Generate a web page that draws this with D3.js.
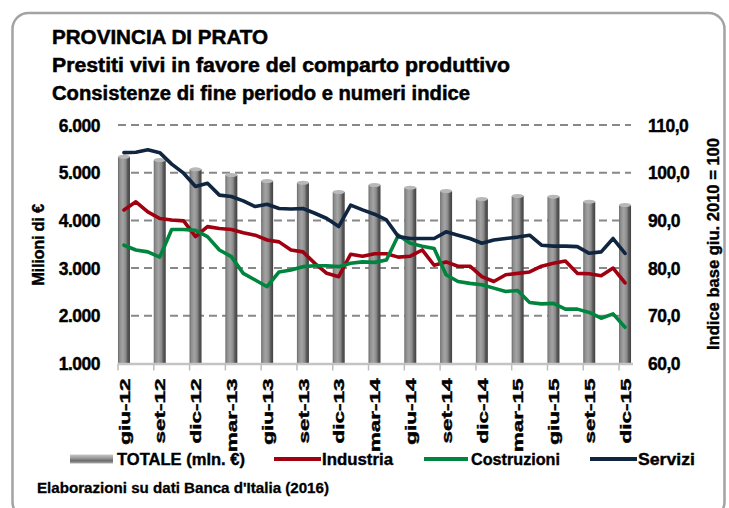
<!DOCTYPE html>
<html>
<head>
<meta charset="utf-8">
<script src="https://cdn.jsdelivr.net/npm/d3@7"></script>
<style>
  html, body { margin: 0; padding: 0; background: #fff; }
  svg { display: block; }
  text { font-family: "Liberation Sans", Arial, sans-serif; font-weight: bold; fill: #000; }
</style>
</head>
<body>
<svg id="chart" width="729" height="508"></svg>
<script>
// ---------- DATA ----------
const months = [
  "giu-12","lug-12","ago-12","set-12","ott-12","nov-12","dic-12",
  "gen-13","feb-13","mar-13","apr-13","mag-13","giu-13","lug-13","ago-13","set-13","ott-13","nov-13","dic-13",
  "gen-14","feb-14","mar-14","apr-14","mag-14","giu-14","lug-14","ago-14","set-14","ott-14","nov-14","dic-14",
  "gen-15","feb-15","mar-15","apr-15","mag-15","giu-15","lug-15","ago-15","set-15","ott-15","nov-15","dic-15"
];
const quarters = ["giu-12","set-12","dic-12","mar-13","giu-13","set-13","dic-13","mar-14","giu-14","set-14","dic-14","mar-15","giu-15","set-15","dic-15"];
const totale = [5335, 5266, 5071, 4952, 4826, 4790, 4595, 4742, 4686, 4616, 4449, 4511, 4497, 4392, 4323];
const industria = [92.2,93.9,91.8,90.4,90.1,89.9,86.6,88.7,88.3,88.1,87.4,86.9,85.9,85.5,83.8,83.4,81.0,78.9,78.2,82.9,82.5,83.0,83.0,82.3,82.5,83.8,80.6,81.3,80.4,80.4,78.2,77.2,78.6,78.9,79.2,80.4,81.0,81.5,78.9,78.8,78.4,80.0,76.9];
const costruzioni = [84.8,83.8,83.4,82.3,88.1,88.1,87.9,86.6,83.8,82.4,78.9,77.5,76.1,79.2,79.6,80.3,80.5,80.5,80.3,81.0,81.3,81.2,81.7,86.9,85.2,84.6,84.1,78.6,77.2,76.8,76.5,75.8,75.1,75.3,72.8,72.5,72.6,71.4,71.4,70.7,69.5,70.4,67.6];
const servizi = [104.2,104.3,104.8,104.2,101.8,99.9,97.1,97.8,95.3,95.0,94.1,92.9,93.4,92.5,92.4,92.5,91.5,90.4,88.7,93.2,92.2,91.3,90.1,86.6,86.2,86.2,86.2,87.6,86.9,86.2,85.2,85.9,86.2,86.5,86.9,84.8,84.6,84.6,84.5,83.1,83.4,86.2,83.1];
const leftTicks = [1000, 2000, 3000, 4000, 5000, 6000];
const rightTicks = [60, 70, 80, 90, 100, 110];
const gridTicks = [2000, 3000, 4000, 5000, 6000];
const titles = ["PROVINCIA DI PRATO", "Prestiti vivi in favore del comparto produttivo", "Consistenze di fine periodo e numeri indice"];
const seriesNames = ["TOTALE (mln. €)", "Industria", "Costruzioni", "Servizi"];
const seriesColors = ["#999999", "#A00010", "#00853E", "#0F2540"];
const leftTitle = "Milioni di €";
const rightTitle = "Indice base giu. 2010 = 100";
const source = "Elaborazioni su dati Banca d'Italia (2016)";

// ---------- SETUP ----------
const svg = d3.select("#chart");
const it = d3.formatLocale({decimal: ",", thousands: ".", grouping: [3], currency: ["", "€"]});
const fmtL = it.format(",.0f");
const fmtR = it.format(".1f");

const plot = {left: 118, right: 631, top: 125, bottom: 363.5};

const x = d3.scaleBand().domain(months).range([plot.left, plot.right]).padding(0);
const yL = d3.scaleLinear().domain([1000, 6000]).range([plot.bottom, plot.top]);
const yR = d3.scaleLinear().domain([60, 110]).range([plot.bottom, plot.top]);

const defs = svg.append("defs");
const g1 = defs.append("linearGradient").attr("id", "cyl").attr("x1", "0").attr("x2", "1").attr("y1", "0").attr("y2", "0");
[["0%", "#6a6a6a"], ["15%", "#8e8e8e"], ["40%", "#a4a4a4"], ["65%", "#8a8a8a"], ["80%", "#5a5a5a"], ["100%", "#424242"]]
  .forEach(([o, c]) => g1.append("stop").attr("offset", o).attr("stop-color", c));
const g2 = defs.append("linearGradient").attr("id", "legbar").attr("x1", "0").attr("x2", "0").attr("y1", "0").attr("y2", "1");
[["0%", "#c8c8c8"], ["40%", "#9a9a9a"], ["70%", "#6a6a6a"], ["100%", "#b0b0b0"]]
  .forEach(([o, c]) => g2.append("stop").attr("offset", o).attr("stop-color", c));

// frame
svg.append("rect").attr("x", 12.5).attr("y", 13).attr("width", 712).attr("height", 505)
  .attr("rx", 16).attr("fill", "none").attr("stroke", "#a3a3a3").attr("stroke-width", 2.5);

// titles
const titleLen = [216, 458, 418];
svg.selectAll("text.title").data(titles).join("text").attr("class", "title")
  .attr("x", 52).attr("y", (d, i) => 44 + i * 28)
  .attr("font-size", 20)
  .attr("textLength", (d, i) => titleLen[i]).attr("lengthAdjust", "spacingAndGlyphs")
  .attr("stroke", "#000").attr("stroke-width", 0.5)
  .text(d => d);

// gridlines
svg.append("g").selectAll("line").data(gridTicks).join("line")
  .attr("x1", plot.left).attr("x2", plot.right)
  .attr("y1", d => yL(d)).attr("y2", d => yL(d))
  .attr("stroke", "#888").attr("stroke-width", 2).attr("stroke-dasharray", "8,5");

// left axis
const axL = svg.append("g").attr("transform", `translate(100,0)`)
  .call(d3.axisLeft(yL).tickValues(leftTicks).tickFormat(fmtL).tickSize(0).tickPadding(0));
axL.select(".domain").remove();
axL.selectAll("text").attr("font-size", 17.5).attr("font-family", "Liberation Sans, Arial").attr("font-weight", "bold")
  .attr("letter-spacing", -0.5).attr("dy", "0.35em").attr("stroke", "#000").attr("stroke-width", 0.4);

// right axis
const axR = svg.append("g").attr("transform", `translate(648,0)`)
  .call(d3.axisRight(yR).tickValues(rightTicks).tickFormat(fmtR).tickSize(0).tickPadding(0));
axR.select(".domain").remove();
axR.selectAll("text").attr("font-size", 17.5).attr("font-family", "Liberation Sans, Arial").attr("font-weight", "bold")
  .attr("letter-spacing", -0.5).attr("dy", "0.35em").attr("stroke", "#000").attr("stroke-width", 0.4);

// axis titles
svg.append("text").attr("transform", "translate(44,245) rotate(-90)")
  .attr("text-anchor", "middle").attr("font-size", 16.5).attr("letter-spacing", -0.3)
  .attr("stroke", "#000").attr("stroke-width", 0.4).text(leftTitle);
svg.append("text").attr("transform", "translate(719,244) rotate(-90)")
  .attr("text-anchor", "middle").attr("font-size", 17).attr("textLength", 212).attr("lengthAdjust", "spacingAndGlyphs")
  .attr("stroke", "#000").attr("stroke-width", 0.4).text(rightTitle);

// bars (cylinders)
const bw = 12;
const bars = svg.append("g");
bars.selectAll("rect").data(totale).join("rect")
  .attr("x", (d, i) => x(quarters[i]) + x.bandwidth() / 2 - bw / 2)
  .attr("y", d => yL(d))
  .attr("width", bw)
  .attr("height", d => plot.bottom - yL(d))
  .attr("fill", "url(#cyl)");
bars.selectAll("ellipse").data(totale).join("ellipse")
  .attr("cx", (d, i) => x(quarters[i]) + x.bandwidth() / 2)
  .attr("cy", d => yL(d))
  .attr("rx", bw / 2).attr("ry", 2)
  .attr("fill", "#b8b8b8");

// bottom axis line and ticks
svg.append("line").attr("x1", plot.left).attr("x2", plot.right + 2)
  .attr("y1", plot.bottom + 0.5).attr("y2", plot.bottom + 0.5)
  .attr("stroke", "#c4c4c4").attr("stroke-width", 2.5);
svg.append("g").selectAll("line").data(quarters).join("line")
  .attr("x1", d => x(d)).attr("x2", d => x(d))
  .attr("y1", plot.bottom).attr("y2", plot.bottom + 7)
  .attr("stroke", "#bdbdbd").attr("stroke-width", 1.5);

const axB = svg.append("g").attr("transform", `translate(0,${plot.bottom})`)
  .call(d3.axisBottom(x).tickValues(quarters).tickSize(0).tickPadding(0));
axB.select(".domain").remove();
axB.selectAll("text")
  .attr("font-size", 15).attr("font-family", "Liberation Sans, Arial").attr("font-weight", "bold")
  .attr("text-anchor", "end").attr("dy", "0.38em")
  .attr("transform", "translate(0,15) rotate(-90)")
  .attr("x", 0).attr("y", 0)
  .attr("stroke", "#000").attr("stroke-width", 0.4)
  .each(function() {
    const L = this.getComputedTextLength();
    d3.select(this).attr("textLength", L * 1.5).attr("lengthAdjust", "spacingAndGlyphs");
  });

// lines
const lineGen = d3.line().x((d, i) => x(months[i]) + x.bandwidth() / 2).y(d => yR(d));
[[industria, seriesColors[1]], [costruzioni, seriesColors[2]], [servizi, seriesColors[3]]].forEach(([data, c]) => {
  svg.append("path").datum(data).attr("d", lineGen)
    .attr("fill", "none").attr("stroke", c).attr("stroke-width", 3.6)
    .attr("stroke-linejoin", "round").attr("stroke-linecap", "round");
});

// legend
const legY = 459;
const leg = svg.append("g");
leg.append("rect").attr("x", 70).attr("y", legY - 4.5).attr("width", 43).attr("height", 9).attr("fill", "url(#legbar)");
const legItems = [
  {sx: 274, ex: 321, tx: 322, len: 71, i: 1},
  {sx: 424, ex: 468, tx: 471, len: 89, i: 2},
  {sx: 590, ex: 637, tx: 638, len: 57, i: 3}
];
leg.selectAll("line").data(legItems).join("line")
  .attr("x1", d => d.sx).attr("x2", d => d.ex).attr("y1", legY).attr("y2", legY)
  .attr("stroke", d => seriesColors[d.i]).attr("stroke-width", 4);
leg.selectAll("text").data([{tx: 117, len: 128, i: 0}].concat(legItems)).join("text")
  .attr("x", d => d.tx).attr("y", legY).attr("dy", "0.35em")
  .attr("font-size", 17)
  .attr("textLength", d => d.len).attr("lengthAdjust", "spacingAndGlyphs")
  .attr("stroke", "#000").attr("stroke-width", 0.4)
  .text(d => seriesNames[d.i]);

// source
svg.append("text").attr("x", 37).attr("y", 493).attr("font-size", 14.5)
  .attr("textLength", 292).attr("lengthAdjust", "spacingAndGlyphs")
  .attr("stroke", "#000").attr("stroke-width", 0.3).text(source);
</script>
</body>
</html>
